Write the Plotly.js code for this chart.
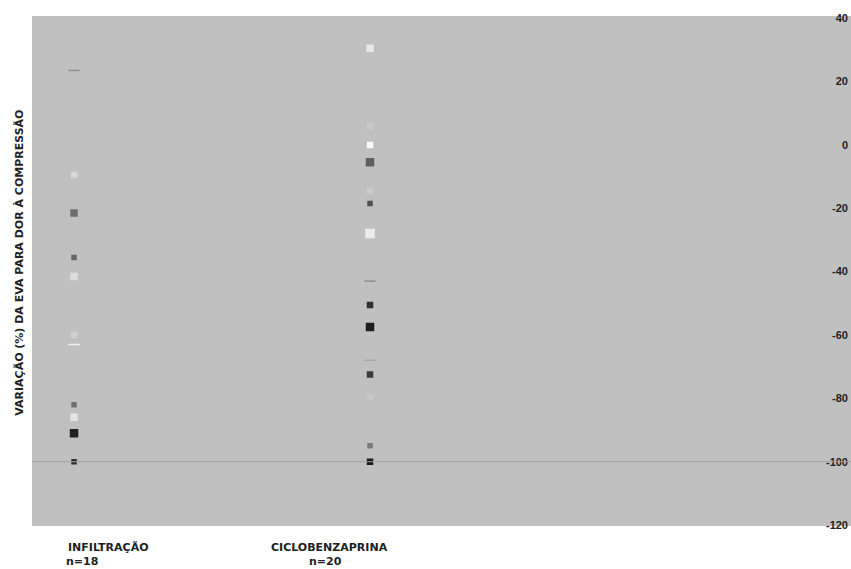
<!DOCTYPE html>
<html>
<head>
<meta charset="utf-8">
<script src="https://cdn.plot.ly/plotly-3.0.1.min.js"></script>
<style>html,body{margin:0;padding:0;background:#fff;}#chart{width:851px;height:569px;}</style>
</head>
<body>
<div id="chart"></div>
<script>
var categories = ["INFILTRAÇÃO", "CICLOBENZAPRINA"];
var groupSizes = ["n=18", "n=20"];
var infiltracao = [23.5, -9.5, -21.5, -35.5, -41.5, -60, -63, -82, -86, -91, -100];
var ciclobenzaprina = [30.5, 6, 0, -5.5, -14.5, -18.5, -28, -43, -50.5, -57.5, -68, -72.5, -79.5, -95, -100];
var yTicks = [40, 20, 0, -20, -40, -60, -80, -100, -120];
var referenceLine = -100;

var infColors = ["#8c8c8c", "#d8d8d8", "#6e6e6e", "#666666", "#dcdcdc", "#d0d0d0", "#f0f0f0", "#707070", "#e4e4e4", "#202020", "#303030"];
var infSymbols = ["line-ew", "square", "square", "square", "square", "square", "line-ew", "square", "square", "square", "square"];
var infSizes = [8, 5, 6, 4, 6, 5, 8, 4, 6, 7, 4];
var cicColors = ["#e8e8e8", "#cacaca", "#fafafa", "#606060", "#cccccc", "#505050", "#ececec", "#8c8c8c", "#303030", "#1e1e1e", "#a8a8a8", "#3a3a3a", "#c8c8c8", "#7a7a7a", "#1a1a1a"];
var cicSymbols = ["square", "square", "square", "square", "square", "square", "square", "line-ew", "square", "square", "line-ew", "square", "square", "square", "square"];
var cicSizes = [6, 5, 5, 7, 5, 4, 8, 8, 5, 7, 8, 5, 5, 4, 5];

function rep(v, n) { var a = []; for (var i = 0; i < n; i++) a.push(v); return a; }

var traces = [
  {
    type: "scatter", mode: "markers",
    x: rep(categories[0], infiltracao.length), y: infiltracao,
    marker: {color: infColors, size: infSizes, symbol: infSymbols, opacity: 1, line: {color: infColors, width: 1.5}},
    hoverinfo: "y", showlegend: false
  },
  {
    type: "scatter", mode: "markers",
    x: rep(categories[1], ciclobenzaprina.length), y: ciclobenzaprina,
    marker: {color: cicColors, size: cicSizes, symbol: cicSymbols, opacity: 1, line: {color: cicColors, width: 1.5}},
    hoverinfo: "y", showlegend: false
  }
];

var labelFont = {size: 11, color: "#222", family: "DejaVu Sans, Arial, sans-serif", weight: "bold"};

var layout = {
  width: 851, height: 569,
  margin: {l: 32, r: 0, t: 16, b: 43},
  paper_bgcolor: "#ffffff",
  plot_bgcolor: "#c0c0c0",
  font: {family: "Liberation Sans, Arial, sans-serif", color: "#222"},
  xaxis: {
    type: "category",
    categoryorder: "array", categoryarray: categories,
    range: [-0.142, 2.625],
    showticklabels: false, showgrid: false, zeroline: false, showline: false, ticks: ""
  },
  yaxis: {
    range: [-120.3, 40.7],
    side: "right",
    ticklabelposition: "inside",
    ticklabeloverflow: "allow",
    tickvals: yTicks,
    ticktext: yTicks.map(String),
    tickfont: {size: 11, color: "#222", family: "Liberation Sans, Arial, sans-serif", weight: "bold"},
    showgrid: false, zeroline: false, showline: false, ticks: "",
    fixedrange: true
  },
  shapes: [
    {type: "line", xref: "paper", x0: 0, x1: 1, yref: "y", y0: referenceLine, y1: referenceLine,
     line: {color: "#a2a2a2", width: 1}}
  ],
  annotations: [
    {xref: "paper", yref: "paper", x: -0.0147, y: 0.516, xanchor: "center", yanchor: "middle",
     text: "VARIAÇÃO (%) DA EVA PARA DOR À COMPRESSÃO", textangle: -90, showarrow: false,
     font: {size: 11, color: "#222", family: "DejaVu Sans, Arial, sans-serif", weight: "bold"}},
    {xref: "paper", yref: "paper", x: 0.093, y: -0.042, xanchor: "center", yanchor: "middle",
     text: categories[0], showarrow: false, font: labelFont},
    {xref: "paper", yref: "paper", x: 0.061, y: -0.069, xanchor: "center", yanchor: "middle",
     text: groupSizes[0], showarrow: false, font: labelFont},
    {xref: "paper", yref: "paper", x: 0.363, y: -0.042, xanchor: "center", yanchor: "middle",
     text: categories[1], showarrow: false, font: labelFont},
    {xref: "paper", yref: "paper", x: 0.358, y: -0.069, xanchor: "center", yanchor: "middle",
     text: groupSizes[1], showarrow: false, font: labelFont}
  ]
};

Plotly.newPlot("chart", traces, layout, {displayModeBar: false, staticPlot: true});
</script>
</body>
</html>
